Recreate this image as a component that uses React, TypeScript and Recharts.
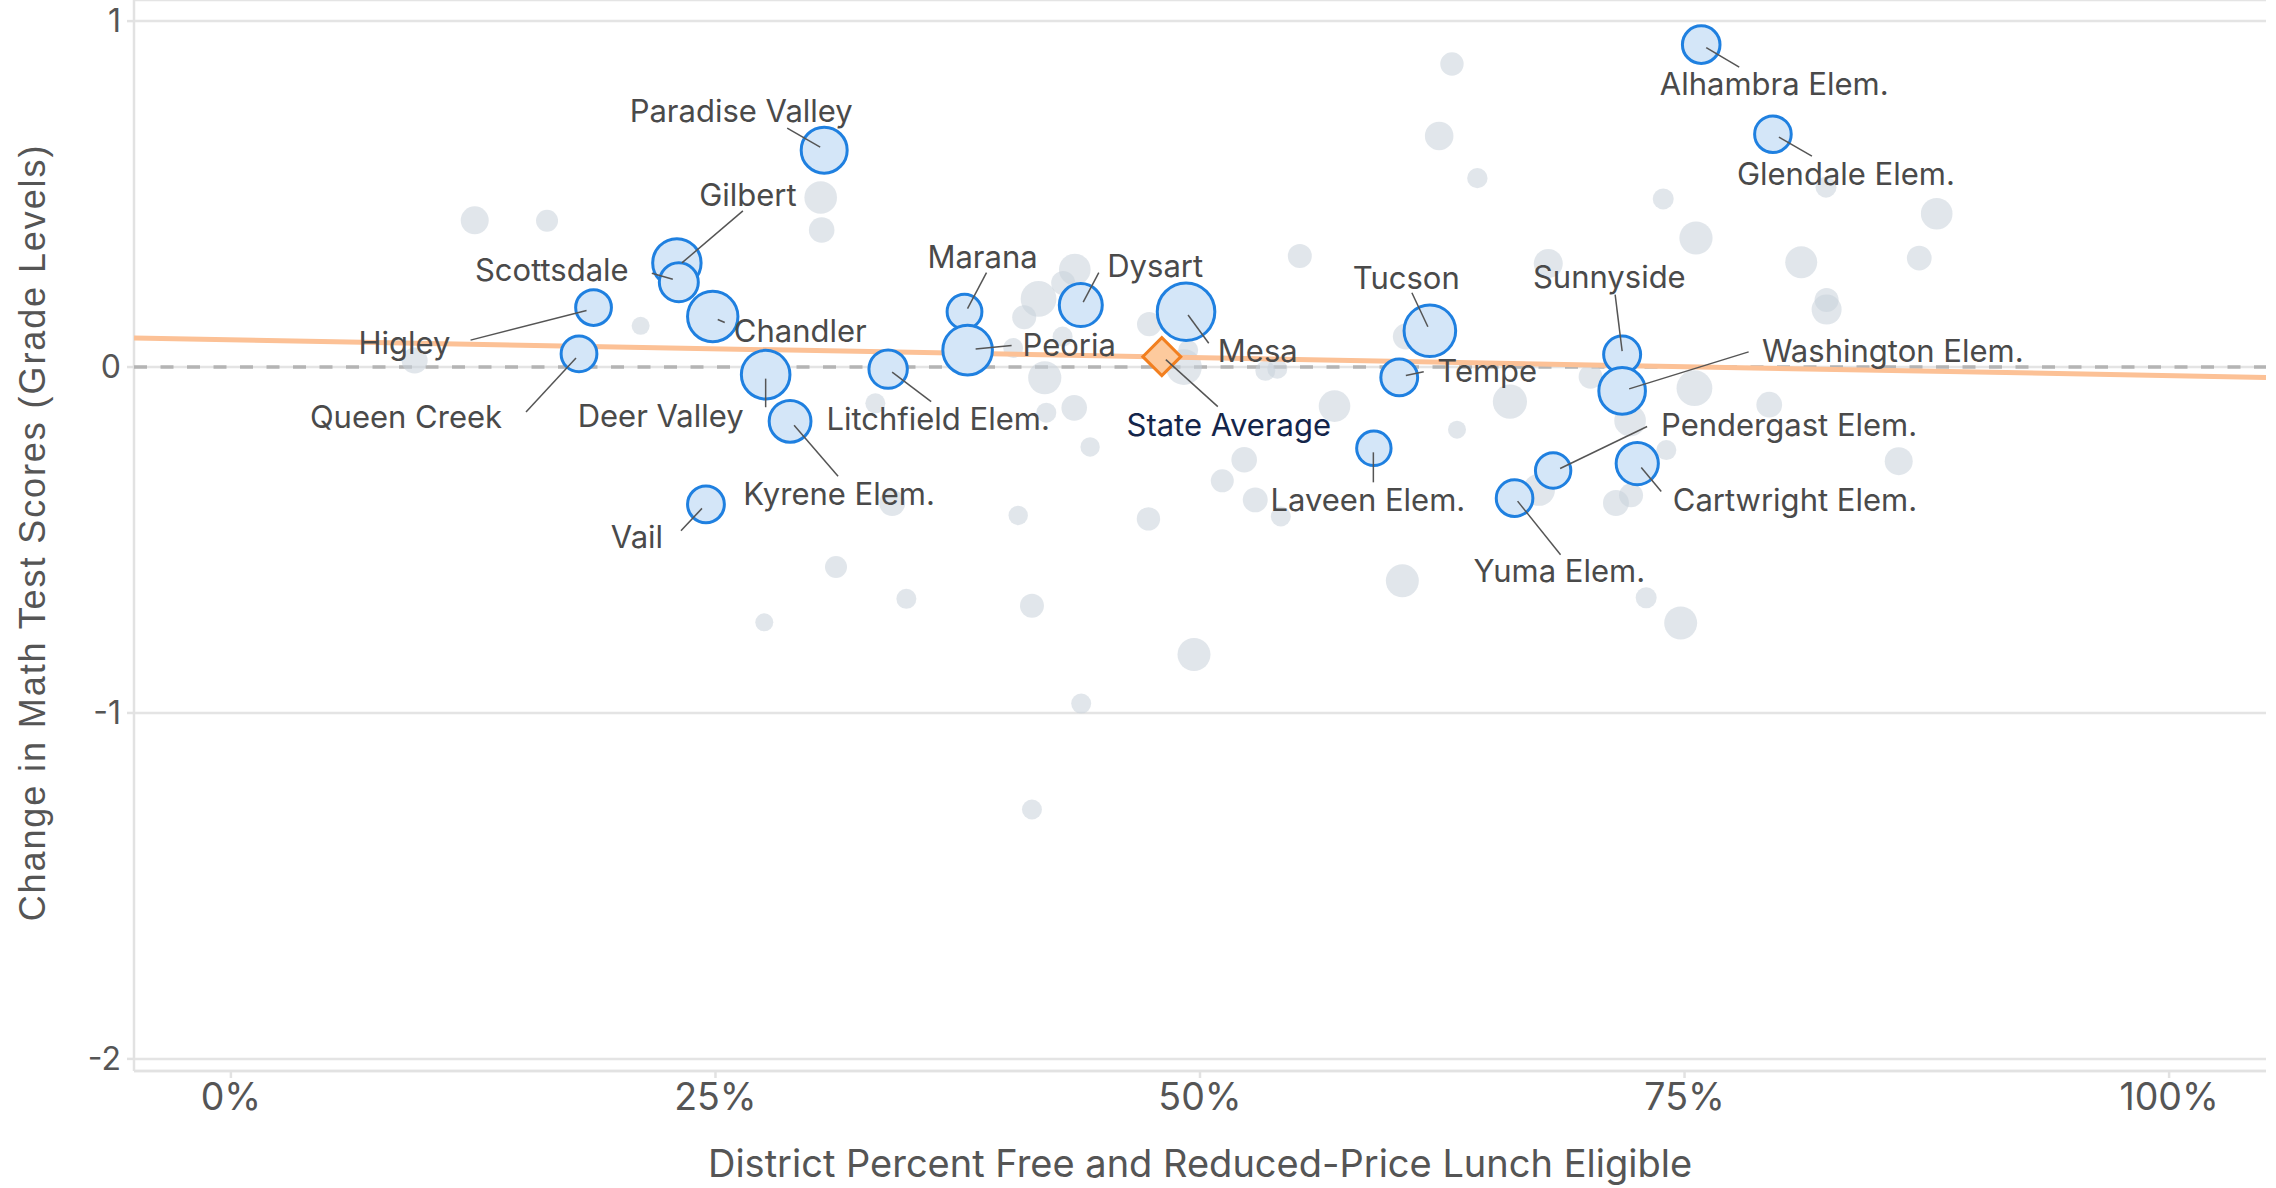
import { ScatterChart, Scatter, XAxis, YAxis, ZAxis, CartesianGrid, Label } from 'recharts';

// named districts (highlighted)
const districtNames = [
  'Alhambra Elem.', 'Glendale Elem.', 'Paradise Valley', 'Gilbert', 'Scottsdale', 'Chandler',
  'Higley', 'Queen Creek', 'Vail', 'Deer Valley', 'Kyrene Elem.', 'Litchfield Elem.',
  'Marana', 'Peoria', 'Dysart', 'Mesa', 'Tucson', 'Tempe', 'Laveen Elem.', 'Sunnyside',
  'Washington Elem.', 'Pendergast Elem.', 'Cartwright Elem.', 'Yuma Elem.',
];
const districtFrl = [
  75.86, 79.56, 30.61, 23.01, 23.11, 24.86,
  18.71, 17.96, 24.51, 27.59, 28.85, 33.91,
  37.85, 38.01, 43.85, 49.28, 61.86, 60.28, 58.97, 71.78,
  71.78, 68.22, 72.56, 66.23,
];
const districtChange = [
  0.932, 0.673, 0.627, 0.301, 0.245, 0.146,
  0.172, 0.038, -0.397, -0.022, -0.157, -0.006,
  0.160, 0.049, 0.179, 0.160, 0.105, -0.030, -0.235, 0.036,
  -0.069, -0.299, -0.279, -0.379,
];
const districtSize = [
  35.3, 33.5, 52.9, 58.6, 38.0, 63.5,
  32.0, 32.0, 33.9, 59.0, 43.7, 36.9,
  30.3, 61.5, 46.2, 82.9, 66.6, 33.9, 29.6, 34.2,
  54.3, 31.3, 44.5, 33.5,
];

// all other districts (grey)
const otherFrl = [
  9.48, 12.58, 16.31, 21.14, 30.43, 30.48, 63.0, 62.34, 64.31, 55.15,
  43.54, 42.94, 41.67, 40.93, 42.91, 47.38, 49.39, 49.17, 41.99, 40.36,
  43.51, 42.07, 33.25, 44.33, 52.28, 51.15, 52.85, 54.17, 47.34, 40.62,
  34.12, 31.22, 60.44, 56.94, 63.26, 53.37, 53.99, 60.62, 41.33, 49.69,
  43.87, 41.33, 27.52, 34.85, 73.02, 74.80, 73.90, 82.30, 88.01, 75.59,
  81.02, 87.11, 67.97, 82.33, 82.33, 70.15, 75.51, 65.99, 79.37, 72.19,
  74.06, 86.05, 67.49, 72.24, 71.46,
];
const otherChange = [
  0.019, 0.424, 0.423, 0.119, 0.490, 0.396, 0.876, 0.668, 0.546, 0.321,
  0.282, 0.243, 0.197, 0.144, 0.088, 0.124, 0.049, 0.000, -0.031, 0.055,
  -0.118, -0.132, -0.105, -0.231, -0.268, -0.329, -0.384, -0.432, -0.439, -0.429,
  -0.393, -0.578, -0.618, -0.113, -0.181, -0.011, -0.005, 0.088, -0.690, -0.831,
  -0.973, -1.279, -0.738, -0.670, -0.667, -0.740, 0.486, 0.520, 0.443, 0.373,
  0.303, 0.315, 0.299, 0.194, 0.166, -0.028, -0.061, -0.100, -0.109, -0.155,
  -0.240, -0.272, -0.355, -0.371, -0.393,
];
const otherSize = [
  16.9, 19.6, 12.1, 8.1, 26.6, 16.4, 13.7, 20.4, 10.4, 14.4,
  25.0, 14.4, 32.0, 14.4, 10.0, 14.9, 10.0, 32.0, 27.6, 10.0,
  16.4, 10.0, 10.0, 9.4, 16.4, 13.2, 15.6, 10.0, 13.7, 9.4,
  16.9, 12.1, 27.2, 25.0, 8.1, 10.0, 10.0, 16.9, 14.4, 27.2,
  10.0, 10.0, 8.1, 10.0, 11.0, 27.2, 11.0, 11.0, 25.0, 27.6,
  25.6, 15.4, 21.0, 14.4, 22.5, 14.2, 32.0, 29.2, 16.6, 25.0,
  10.0, 19.6, 25.6, 14.4, 16.9,
];

const stateAverageFrl = 48.03;
const stateAverageChange = 0.03;

// fitted trend line, read at both ends of the x range
const trendFrl = [-5, 105];
const trendChange = [0.084, -0.030];

const xTicks = [0, 25, 50, 75, 100];
const yTicks = [-2, -1, 0, 1];

const districts = districtNames.map((name, i) => ({
  name, x: districtFrl[i], y: districtChange[i], z: districtSize[i],
}));
const others = otherFrl.map((x, i) => ({ x, y: otherChange[i], z: otherSize[i] }));
const stateAvg = [{ name: 'State Average', x: stateAverageFrl, y: stateAverageChange }];
const trend = trendFrl.map((x, i) => ({ x, y: trendChange[i] }));
const zeroLine = trendFrl.map((x) => ({ x, y: 0 }));

// label offsets from the bubble centre: text [dx, baseline dy], leader [x1, y1, x2, y2]
const placement: Record<string, { t: number[]; l: number[] }> = {
  'Alhambra Elem.': { t: [73, 50.5], l: [5, 3, 38, 22.5] },
  'Glendale Elem.': { t: [73, 51], l: [6, 3, 39, 22] },
  'Paradise Valley': { t: [-83, -28], l: [-37, -22, -4, -3] },
  Gilbert: { t: [71, -56.6], l: [66, -52, 5, 0] },
  Scottsdale: { t: [-127, -1.7], l: [-27, -9, -6, -3] },
  Chandler: { t: [87.5, 25], l: [5, 3, 12, 6] },
  Higley: { t: [-189, 46], l: [-123, 32.6, -7, 3] },
  'Queen Creek': { t: [-173, 74], l: [-53, 58, -3, 4] },
  Vail: { t: [-69, 43.6], l: [-25, 26.4, -4, 4] },
  'Deer Valley': { t: [-105, 52], l: [0, 4, 0, 32.6] },
  'Kyrene Elem.': { t: [49, 83.3], l: [4, 4, 48, 55] },
  'Litchfield Elem.': { t: [50, 61.2], l: [4, 3, 43, 32.5] },
  Marana: { t: [18, -43.9], l: [22, -39, 3, -3] },
  Peoria: { t: [101.6, 5.8], l: [44, -4.6, 8, -1] },
  Dysart: { t: [74.4, -27.9], l: [18, -32.5, 2.4, -3] },
  Mesa: { t: [71.7, 50], l: [2, 3.3, 22.7, 31.6] },
  Tucson: { t: [-23.6, -42], l: [-18, -38, -2, -4] },
  Tempe: { t: [88, 5], l: [6.6, -2, 24.5, -5.7] },
  'Laveen Elem.': { t: [-6, 62.7], l: [-0.5, 4, -0.5, 34] },
  Sunnyside: { t: [-12.8, -66.8], l: [-7, -60, 0, -3.5] },
  'Washington Elem.': { t: [270.6, -29.4], l: [126.5, -39, 7, -2] },
  'Pendergast Elem.': { t: [236, -34.4], l: [94, -44, 7, -2] },
  'Cartwright Elem.': { t: [157.7, 47.2], l: [4, 4, 24, 28] },
  'Yuma Elem.': { t: [44.7, 84.2], l: [3, 3, 46, 56.7] },
  'State Average': { t: [67, 79], l: [4, 3, 56, 50] },
};

const Nothing = () => <g />;

const Diamond = (props: any) => {
  const { cx, cy } = props;
  const h = 19;
  return (
    <path
      d={`M${cx},${cy - h}L${cx + h},${cy}L${cx},${cy + h}L${cx - h},${cy}Z`}
      fill="#fdca9d"
      stroke="#f27f1f"
      strokeWidth={3}
    />
  );
};

const CalloutShape = (props: any) => {
  const { cx, cy, payload } = props;
  const p = placement[payload.name];
  if (!p) return <g />;
  const isState = payload.name === 'State Average';
  return (
    <g>
      <line
        x1={cx + p.l[0]} y1={cy + p.l[1]} x2={cx + p.l[2]} y2={cy + p.l[3]}
        stroke="#555" strokeWidth={1.5}
      />
      <text
        x={cx + p.t[0]} y={cy + p.t[1]} textAnchor="middle"
        fontFamily="Inter" fontSize={31} fill={isState ? '#14254a' : '#4a4a4a'}
      >
        {payload.name}
      </text>
    </g>
  );
};

const App = () => {
  const axisStroke = { stroke: '#e2e2e2', strokeWidth: 2.5 };
  return (
    <div style={{ position: 'absolute', left: 0, top: 0, width: 2276, height: 1188, background: '#fff', fontFamily: 'Inter' }}>
      <ScatterChart width={2276} height={1188} margin={{ top: 0, right: 10, bottom: 0, left: 0 }}>
        <CartesianGrid vertical={false} stroke="#e4e4e4" strokeWidth={2.5} />
        <XAxis
          type="number" dataKey="x" domain={[-5, 105]} ticks={xTicks} allowDataOverflow
          tickFormatter={(v) => `${v}%`} height={117}
          axisLine={axisStroke} tickLine={axisStroke} tickSize={7} tickMargin={5}
          tick={{ fill: '#555', fontSize: 37.5, fontFamily: 'Inter' }}
        >
          <Label
            content={(lp: any) => {
              const vb = lp.viewBox;
              return (
                <text x={vb.x + vb.width / 2} y={vb.y + 106} textAnchor="middle" fontFamily="Inter" fontSize={38} fill="#555">
                  District Percent Free and Reduced-Price Lunch Eligible
                </text>
              );
            }}
          />
        </XAxis>
        <YAxis
          type="number" dataKey="y" domain={[-2.035, 1.061]} ticks={yTicks} allowDataOverflow
          width={134} axisLine={axisStroke} tickLine={axisStroke} tickSize={7} tickMargin={6}
          tick={{ fill: '#555', fontSize: 32, fontFamily: 'Inter' }}
        >
          <Label
            content={(lp: any) => {
              const vb = lp.viewBox;
              const cy = vb.y + vb.height / 2 - 3;
              return (
                <text
                  x={32} y={cy} transform={`rotate(-90 32 ${cy})`} textAnchor="middle" dominantBaseline="central"
                  fontFamily="Liberation Sans" fontSize={36} letterSpacing={1.9} fill="#555"
                >
                  Change in Math Test Scores (Grade Levels)
                </text>
              );
            }}
          />
        </YAxis>
        <ZAxis type="number" dataKey="z" domain={[0, 100]} range={[0, 1000 * Math.PI]} />

        <Scatter data={zeroLine} isAnimationActive={false} shape={Nothing}
          line={{ stroke: '#b4b4b4', strokeWidth: 3.5, strokeDasharray: '13 13.5' }} />
        <Scatter data={others} isAnimationActive={false} fill="#c9d1db" fillOpacity={0.55} />
        <Scatter data={trend} isAnimationActive={false} shape={Nothing}
          line={{ stroke: '#fcc196', strokeWidth: 5 }} />
        <Scatter data={districts} isAnimationActive={false} fill="#d4e6f8" stroke="#1f80e0" strokeWidth={3} />
        <Scatter data={stateAvg} isAnimationActive={false} shape={Diamond} />
        <Scatter data={[...districts, ...stateAvg]} isAnimationActive={false} shape={CalloutShape} />
      </ScatterChart>
    </div>
  );
};

export default App;
